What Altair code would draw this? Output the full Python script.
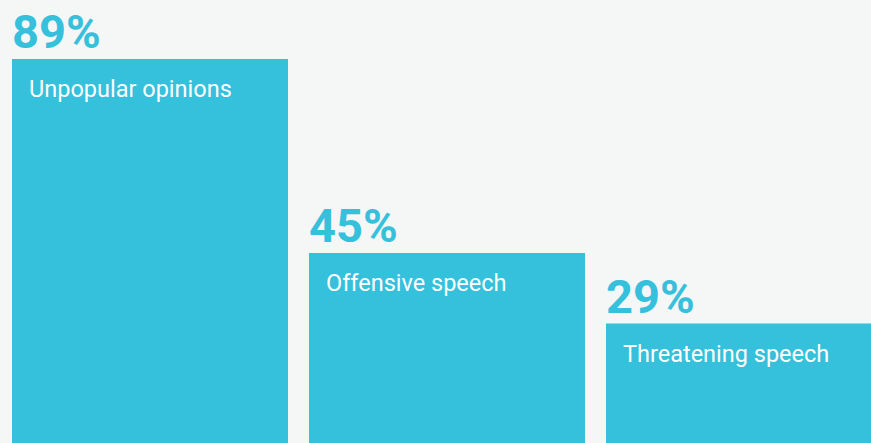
import altair as alt
import pandas as pd

categories = ["Unpopular opinions", "Offensive speech", "Threatening speech"]
values = [89, 45, 29]
labels = ["89%", "45%", "29%"]

df = pd.DataFrame({"category": categories, "value": values, "label": labels})

BAR = "#35c0dc"
BG = "#f5f6f6"

xscale = alt.Scale(range=[12, 882], paddingInner=21 / 297, paddingOuter=0)
yscale = alt.Scale(domain=[0, 100], range=[451.5, 10.5])

x_bar = alt.X("category:N", sort=categories, axis=None, scale=xscale)
x_txt = alt.X("category:N", sort=categories, axis=None, scale=xscale, bandPosition=0)
y = alt.Y("value:Q", axis=None, scale=yscale)

base = alt.Chart(df)

bars = base.mark_bar(color=BAR).encode(x=x_bar, y=y)

pct = base.mark_text(
    align="left", baseline="alphabetic", dy=-11, fontSize=47,
    fontWeight="bold", font="Roboto", color=BAR
).encode(x=x_txt, y=y, text="label:N")

cat = base.mark_text(
    align="left", baseline="alphabetic", dx=17, dy=38, fontSize=23.5,
    font="Roboto", color="white"
).encode(x=x_txt, y=y, text="category:N")

chart = alt.layer(bars, pct, cat).properties(
    width=871, height=443, background=BG, padding=0, autosize="none"
).configure_view(stroke=None)

chart.save("out.html", embed_options={"renderer": "svg", "actions": False})
